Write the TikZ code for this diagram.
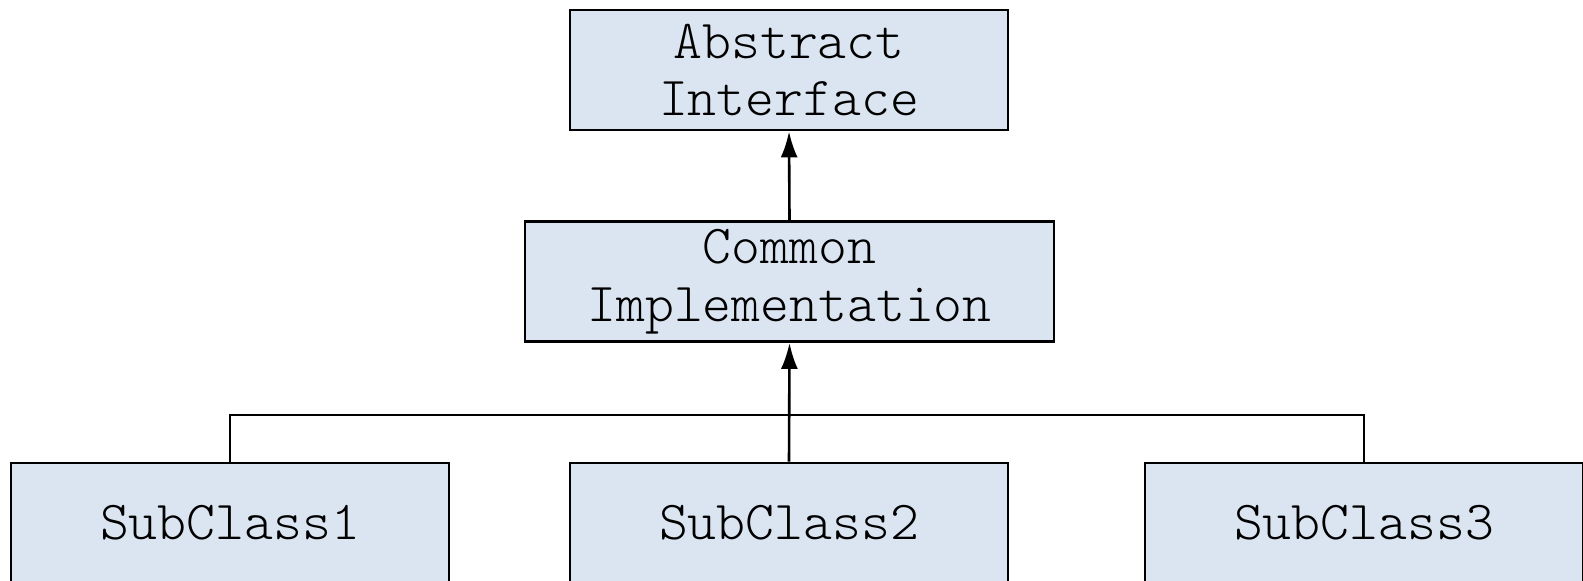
\documentclass[tikz,border=0pt]{standalone}
\usepackage{fontspec}
\setmonofont{Latin Modern Mono Light}
\usetikzlibrary{arrows.meta}
\definecolor{boxfill}{HTML}{DBE5F1}
\tikzset{
  classbox/.style={draw=black, fill=boxfill, line width=1.4pt, rectangle,
    minimum width=219pt, minimum height=60pt, inner sep=0pt, align=center,
    font=\ttfamily\fontsize{27.5}{28.75}\selectfont},
  widebox/.style={classbox, minimum width=264.5pt},
  link/.style={line width=1.3pt, draw=black},
  inherit/.style={link, -{Latex[length=13pt,width=8.5pt]}}
}
\begin{document}
\begin{tikzpicture}[x=0.5pt, y=-0.5pt]
  \useasboundingbox (0,0) rectangle (1583,581);
  \clip (0,0) rectangle (1583,581);
  \node[classbox] (abs) at (789,70) {Abstract\\Interface};
  \node[widebox] (impl) at (789.5,281.5) {Common\\Implementation};
  \node[classbox] (sub1) at (230,523) {SubClass1};
  \node[classbox] (sub2) at (789,523) {SubClass2};
  \node[classbox] (sub3) at (1364,523) {SubClass3};
  \coordinate (bus) at (789,415);
  \draw[inherit] (impl.north) -- (abs.south);
  \draw[inherit] (sub2.north) -- (impl.south);
  \draw[link] (sub1.north) |- (bus) -| (sub3.north);
\end{tikzpicture}
\end{document}
